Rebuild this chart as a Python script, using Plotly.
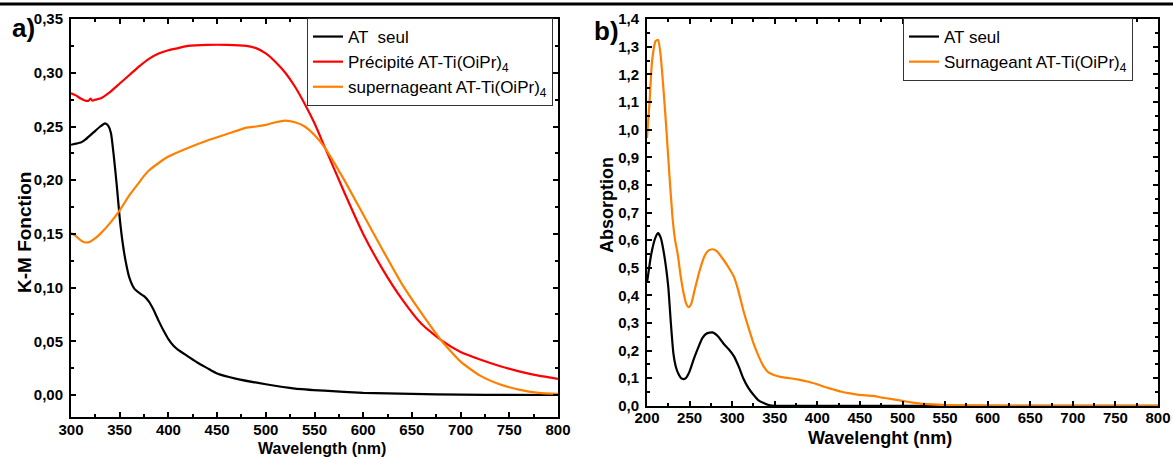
import plotly.graph_objects as go

# ---------------- Data: panel a) K-M function ----------------
a_black_x = [300, 305, 310, 315, 320, 325, 330, 335, 338, 341, 344, 347, 350, 353, 356, 360, 365, 370, 375,
             380, 385, 390, 395, 400, 405, 410, 420, 430, 440, 450, 470, 500, 530, 560, 600, 650, 700, 750, 800]
a_black_y = [0.233, 0.234, 0.235, 0.238, 0.242, 0.246, 0.250, 0.253, 0.251, 0.244, 0.222, 0.195, 0.165, 0.142,
             0.125, 0.109, 0.099, 0.095, 0.092, 0.087, 0.079, 0.069, 0.060, 0.052, 0.046, 0.042, 0.036, 0.030,
             0.025, 0.020, 0.015, 0.010, 0.006, 0.004, 0.002, 0.001, 0.0003, 0.0001, 0.0]

a_red_x = [300, 305, 310, 315, 318, 320, 322, 325, 330, 340, 350, 360, 370, 380, 390, 400, 410, 420, 440, 460,
           480, 490, 500, 510, 520, 530, 540, 550, 560, 580, 600, 620, 640, 660, 680, 700, 720, 740, 760, 780, 800]
a_red_y = [0.281, 0.279, 0.276, 0.274, 0.274, 0.276, 0.274, 0.275, 0.276, 0.282, 0.290, 0.298, 0.306, 0.313,
           0.318, 0.321, 0.323, 0.325, 0.326, 0.326, 0.325, 0.323, 0.318, 0.310, 0.300, 0.287, 0.271, 0.253,
           0.232, 0.190, 0.150, 0.117, 0.089, 0.066, 0.051, 0.040, 0.033, 0.027, 0.022, 0.018, 0.015]

a_orange_x = [300, 305, 310, 315, 320, 325, 330, 340, 350, 360, 370, 375, 380, 390, 400, 420, 440, 460, 480,
              490, 500, 510, 520, 530, 540, 550, 560, 580, 600, 620, 640, 660, 680, 700, 720, 740, 760, 780, 800]
a_orange_y = [0.151, 0.148, 0.144, 0.142, 0.143, 0.146, 0.150, 0.160, 0.172, 0.186, 0.198, 0.204, 0.209, 0.216,
              0.222, 0.230, 0.237, 0.243, 0.249, 0.250, 0.2515, 0.254, 0.2555, 0.254, 0.250, 0.242, 0.231,
              0.201, 0.168, 0.135, 0.103, 0.076, 0.051, 0.031, 0.018, 0.010, 0.005, 0.002, 0.001]

# ---------------- Data: panel b) Absorption ----------------
b_black_x = [200, 205, 210, 213, 216, 220, 225, 228, 231, 234, 237, 240, 243, 246, 250, 255, 260, 265, 270,
             277, 283, 290, 296, 302, 308, 313, 319, 325, 331, 337, 343, 350, 400, 800]
b_black_y = [0.445, 0.55, 0.61, 0.625, 0.61, 0.55, 0.43, 0.30, 0.19, 0.14, 0.115, 0.10, 0.097, 0.102, 0.125,
             0.17, 0.21, 0.245, 0.262, 0.266, 0.253, 0.225, 0.205, 0.18, 0.14, 0.10, 0.065, 0.04, 0.02, 0.01,
             0.003, 0.0, 0.0, 0.0]

b_orange_x = [200, 203, 206, 210, 213, 216, 220, 223, 226, 230, 233, 236, 240, 243, 246, 249, 252, 256, 262,
              268, 272, 277, 282, 290, 296, 302, 307, 313, 319, 325, 331, 337, 343, 349, 358, 368, 378, 388,
              398, 407, 417, 427, 437, 447, 457, 466, 476, 486, 500, 512, 525, 550, 600, 650, 700, 800]
b_orange_y = [0.97, 1.10, 1.25, 1.32, 1.325, 1.27, 1.12, 0.99, 0.85, 0.68, 0.60, 0.55, 0.46, 0.408, 0.37,
              0.357, 0.37, 0.42, 0.492, 0.545, 0.562, 0.567, 0.56, 0.528, 0.50, 0.468, 0.42, 0.347, 0.285,
              0.227, 0.18, 0.142, 0.12, 0.112, 0.104, 0.100, 0.095, 0.088, 0.080, 0.070, 0.061, 0.052, 0.046,
              0.041, 0.038, 0.036, 0.030, 0.025, 0.018, 0.012, 0.007, 0.003, 0.001, 0.0, 0.0, 0.0]

W, H = 1173, 457
FONT = "Liberation Sans"
BLACK, RED, ORANGE = "#000000", "#ff0000", "#ff8000"

def px_x(p):
    return p / W

def px_y(p):
    return 1 - p / H

fig = go.Figure()
lw = 2.2
fig.add_trace(go.Scatter(x=a_black_x, y=a_black_y, mode="lines", name="AT  seul",
                         line=dict(color=BLACK, width=lw, shape="spline", smoothing=0.5),
                         xaxis="x", yaxis="y", legend="legend"))
fig.add_trace(go.Scatter(x=a_red_x, y=a_red_y, mode="lines", name="Précipité AT-Ti(OiPr)<sub>4</sub>",
                         line=dict(color=RED, width=lw, shape="spline", smoothing=0.5),
                         xaxis="x", yaxis="y", legend="legend"))
fig.add_trace(go.Scatter(x=a_orange_x, y=a_orange_y, mode="lines", name="supernageant AT-Ti(OiPr)<sub>4</sub>",
                         line=dict(color=ORANGE, width=lw, shape="spline", smoothing=0.5),
                         xaxis="x", yaxis="y", legend="legend"))
fig.add_trace(go.Scatter(x=b_black_x, y=b_black_y, mode="lines", name="AT seul",
                         line=dict(color=BLACK, width=lw, shape="spline", smoothing=0.5),
                         xaxis="x2", yaxis="y2", legend="legend2"))
fig.add_trace(go.Scatter(x=b_orange_x, y=b_orange_y, mode="lines", name="Surnageant AT-Ti(OiPr)<sub>4</sub>",
                         line=dict(color=ORANGE, width=lw, shape="spline", smoothing=0.5),
                         xaxis="x2", yaxis="y2", legend="legend2"))

tickfont = dict(family=FONT, size=15, color="black", weight="bold")

def axis(domain, rng, dtick, minor_dtick, fmt=None, anchor=None, tick0=None, standoff=6):
    d = dict(domain=domain, range=rng, dtick=dtick, tick0=tick0 if tick0 is not None else rng[0],
             ticks="inside", ticklen=5, tickwidth=2, tickcolor="black",
             showline=True, linewidth=2, linecolor="black", mirror="ticks",
             showgrid=False, zeroline=False, tickfont=tickfont, ticklabelstandoff=standoff,
             automargin=False,
             minor=dict(ticks="inside", ticklen=3, tickwidth=2, tickcolor="black", dtick=minor_dtick,
                        showgrid=False),
             anchor=anchor)
    if fmt:
        d["tickformat"] = fmt
    return d

fig.update_layout(
    width=W, height=H, margin=dict(l=0, r=0, t=0, b=0, autoexpand=False),
    paper_bgcolor="white", plot_bgcolor="white", separators=",.",
    xaxis=axis([px_x(71), px_x(558)], [300, 800.01], 50, 25, anchor="y", tick0=300, standoff=-2),
    yaxis=axis([px_y(417), px_y(19)], [-0.0205, 0.3501], 0.05, 0.025, fmt=".2f", anchor="x", tick0=0,
               standoff=3),
    xaxis2=axis([px_x(647), px_x(1158)], [200, 800.01], 50, 25, anchor="y2", tick0=200, standoff=-3),
    yaxis2=axis([px_y(406), px_y(19)], [-0.0005, 1.4005], 0.1, 0.05, fmt=".1f", anchor="x2", tick0=0,
                standoff=3),
    legend=dict(x=px_x(307), y=px_y(18), xanchor="left", yanchor="top",
                bgcolor="white", bordercolor="#333333", borderwidth=1,
                font=dict(family=FONT, size=17, color="black"), tracegroupgap=0,
                itemwidth=30),
    legend2=dict(x=px_x(903), y=px_y(18), xanchor="left", yanchor="top",
                 bgcolor="white", bordercolor="#333333", borderwidth=1,
                 font=dict(family=FONT, size=17, color="black"), tracegroupgap=0,
                 itemwidth=30),
    showlegend=True,
)

annots = [
    dict(text="<b>K-M Fonction</b>", x=px_x(25), y=px_y(233), textangle=-90, size=19),
    dict(text="<b>Wavelength (nm)</b>", x=px_x(322), y=px_y(448), textangle=0, size=16),
    dict(text="<b>Absorption</b>", x=px_x(607), y=px_y(205), textangle=-90, size=18),
    dict(text="<b>Wavelenght (nm)</b>", x=px_x(880), y=px_y(438), textangle=0, size=18),
    dict(text="<b>a)</b>", x=px_x(23), y=px_y(28), textangle=0, size=26),
    dict(text="<b>b)</b>", x=px_x(606), y=px_y(31), textangle=0, size=26),
]
for a in annots:
    fig.add_annotation(text=a["text"], x=a["x"], y=a["y"], xref="paper", yref="paper",
                       xanchor="center", yanchor="middle", showarrow=False, textangle=a["textangle"],
                       font=dict(family=FONT, size=a["size"], color="black"))

# page border line at the top
fig.add_shape(type="line", xref="paper", yref="paper", x0=0, x1=1, y0=px_y(4), y1=px_y(4),
              line=dict(color="black", width=3))

fig.write_html("out.html", config={"displayModeBar": False},
               post_script="document.body.style.margin='0';document.body.style.overflow='hidden';")
